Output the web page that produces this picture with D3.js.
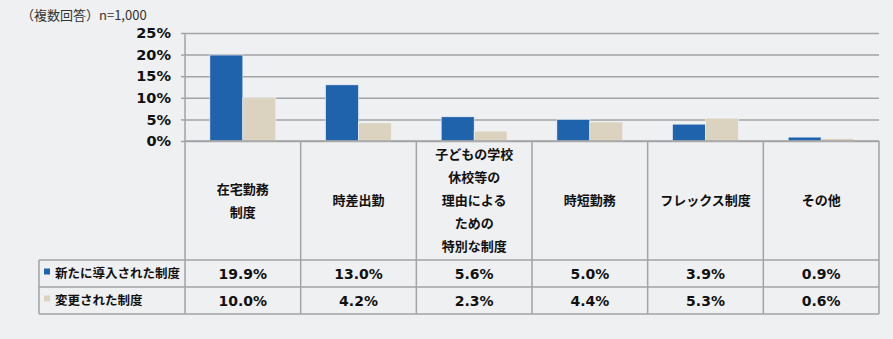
<!DOCTYPE html>
<html>
<head>
<meta charset="utf-8">
<script src="https://cdn.jsdelivr.net/npm/d3@7"></script>
<style>
  html, body { margin: 0; padding: 0; background: #eff0f2; }
  svg { display: block; }
  text { font-family: "DejaVu Sans", "Noto Sans CJK JP", sans-serif; }
  .jp { font-family: "Noto Sans CJK JP", "DejaVu Sans", sans-serif; }
</style>
</head>
<body>
<svg id="chart" width="893" height="339"></svg>
<script>
// Survey: work arrangements newly introduced / changed (multiple answers, n=1,000)
const categories = [
  ["在宅勤務", "制度"],
  ["時差出勤"],
  ["子どもの学校", "休校等の", "理由による", "ための", "特別な制度"],
  ["時短勤務"],
  ["フレックス制度"],
  ["その他"]
];
const seriesNames = ["新たに導入された制度", "変更された制度"];
const newlyIntroduced = [19.9, 13.0, 5.6, 5.0, 3.9, 0.9];
const changed = [10.0, 4.2, 2.3, 4.4, 5.3, 0.6];
const yTicks = [0, 5, 10, 15, 20, 25];
const note = "（複数回答）n=1,000";

const seriesValues = [newlyIntroduced, changed];
const colors = ["#1f63ad", "#dbd3bf"];
const gridColor = "#a3a3a3";

const svg = d3.select("#chart");

const plotLeft = 185, plotRight = 879, plotTop = 33, zeroY = 141;
const headerBottom = 260, row1Bottom = 287, row2Bottom = 314, legendLeft = 39;

const x = d3.scaleBand().domain(d3.range(categories.length)).range([plotLeft, plotRight]);
const bw = x.bandwidth();
const x1 = d3.scaleBand().domain(d3.range(seriesNames.length)).range([bw * 0.215, bw * 0.785]);
const y = d3.scaleLinear().domain([0, 25]).range([zeroY, plotTop]);

// note
svg.append("text")
  .attr("class", "jp")
  .attr("x", 21).attr("y", 20)
  .attr("font-size", 13)
  .attr("fill", "#333")
  .text(note);

// gridlines + y axis
const yAxis = d3.axisLeft(y)
  .tickValues(yTicks)
  .tickSize(-(plotRight - plotLeft))
  .tickSizeOuter(0)
  .tickPadding(14)
  .tickFormat(d => d + "%");

const ga = svg.append("g").attr("transform", `translate(${plotLeft},0)`).call(yAxis);
ga.select(".domain").remove();
ga.selectAll(".tick line").attr("stroke", gridColor).attr("stroke-width", 1.5);
ga.selectAll(".tick text")
  .attr("font-size", 14.5).attr("font-weight", "bold").attr("fill", "#111");
// short outer tick stubs
ga.selectAll(".tick").append("line")
  .attr("x1", -4).attr("x2", 0).attr("stroke", gridColor).attr("stroke-width", 1.5);
// vertical axis line
ga.append("line")
  .attr("x1", 0).attr("x2", 0)
  .attr("y1", y(25)).attr("y2", y(0))
  .attr("stroke", gridColor).attr("stroke-width", 1.5);

// bars
const groups = svg.append("g").selectAll("g")
  .data(categories.map((c, i) => i))
  .join("g")
  .attr("transform", i => `translate(${x(i)},0)`);

groups.selectAll("rect")
  .data(i => seriesValues.map((vals, s) => ({ s, v: vals[i] })))
  .join("rect")
  .attr("x", d => x1(d.s))
  .attr("width", x1.bandwidth())
  .attr("y", d => y(d.v))
  .attr("height", d => y(0) - y(d.v))
  .attr("fill", d => colors[d.s])
  .attr("stroke", "#f4f5f7")
  .attr("stroke-width", 0.6);

// table
const tbl = svg.append("g");
const line = (ax, ay, bx, by) => tbl.append("line")
  .attr("x1", ax).attr("y1", ay).attr("x2", bx).attr("y2", by)
  .attr("stroke", gridColor).attr("stroke-width", 1.5);

// verticals
x.domain().forEach(i => line(x(i), zeroY, x(i), row2Bottom));
line(plotRight, zeroY, plotRight, row2Bottom);
line(legendLeft, headerBottom, legendLeft, row2Bottom);
// horizontals
line(plotLeft, zeroY, plotRight, zeroY);
line(legendLeft, headerBottom, plotRight, headerBottom);
line(legendLeft, row1Bottom, plotRight, row1Bottom);
line(legendLeft, row2Bottom, plotRight, row2Bottom);

// category headers
const headerMid = (zeroY + headerBottom) / 2;
const lh = 23;
categories.forEach((lines, i) => {
  const t = tbl.append("text")
    .attr("class", "jp")
    .attr("text-anchor", "middle")
    .attr("font-size", 13)
    .attr("font-weight", "bold")
    .attr("fill", "#111");
  lines.forEach((ln, k) => {
    t.append("tspan")
      .attr("x", x(i) + bw / 2)
      .attr("y", headerMid + (k - (lines.length - 1) / 2) * lh)
      .attr("dy", "0.35em")
      .text(ln);
  });
});

// value rows + legend
const rowMids = [(headerBottom + row1Bottom) / 2, (row1Bottom + row2Bottom) / 2];
seriesNames.forEach((name, s) => {
  tbl.append("rect")
    .attr("x", 44).attr("y", rowMids[s] - 5)
    .attr("width", 6).attr("height", 6)
    .attr("fill", colors[s]);
  tbl.append("text")
    .attr("class", "jp")
    .attr("x", 55).attr("y", rowMids[s])
    .attr("dy", "0.35em")
    .attr("font-size", 12.5)
    .attr("font-weight", "bold")
    .attr("fill", "#111")
    .text(name);
  seriesValues[s].forEach((v, i) => {
    tbl.append("text")
      .attr("x", x(i) + bw / 2).attr("y", rowMids[s])
      .attr("dy", "0.36em")
      .attr("text-anchor", "middle")
      .attr("font-size", 14)
      .attr("font-weight", "bold")
      .attr("fill", "#111")
      .text(v.toFixed(1) + "%");
  });
});
</script>
</body>
</html>
